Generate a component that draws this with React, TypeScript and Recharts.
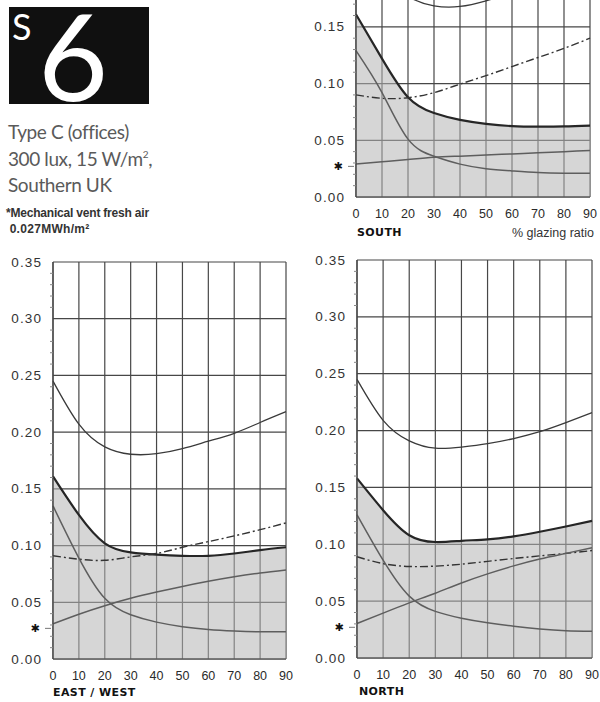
import { ComposedChart, Area, Line, XAxis, YAxis, CartesianGrid } from 'recharts'

// % glazing ratio
const glazing = [0, 10, 20, 30, 40, 50, 60, 70, 80, 90]
const yMajor = [0, 0.05, 0.1, 0.15, 0.2, 0.25, 0.3, 0.35]
const yMinor = [
  0.01, 0.02, 0.03, 0.04, 0.06, 0.07, 0.08, 0.09, 0.11, 0.12, 0.13, 0.14,
  0.16, 0.17, 0.18, 0.19, 0.21, 0.22, 0.23, 0.24, 0.26, 0.27, 0.28, 0.29,
  0.31, 0.32, 0.33, 0.34,
]
// mechanical vent fresh air marker (MWh/m2)
const ventMark = 0.027

// SOUTH
const southTotal = [0.24, 0.2, 0.177, 0.1685, 0.168, 0.173, 0.18, 0.188, 0.196, 0.205]
const southShaded = [0.161, 0.122, 0.088, 0.074, 0.068, 0.0645, 0.0625, 0.062, 0.0622, 0.063]
const southDashed = [0.09, 0.087, 0.0875, 0.092, 0.0995, 0.107, 0.115, 0.123, 0.131, 0.14]
const southFalling = [0.129, 0.092, 0.051, 0.036, 0.029, 0.025, 0.023, 0.0215, 0.021, 0.021]
const southRising = [0.029, 0.031, 0.033, 0.035, 0.036, 0.037, 0.038, 0.039, 0.04, 0.041]

// EAST / WEST
const eastTotal = [0.245, 0.207, 0.187, 0.1805, 0.181, 0.1855, 0.192, 0.199, 0.2085, 0.218]
const eastShaded = [0.161, 0.127, 0.102, 0.094, 0.092, 0.091, 0.091, 0.093, 0.096, 0.0985]
const eastDashed = [0.091, 0.088, 0.087, 0.09, 0.093, 0.0985, 0.1035, 0.1085, 0.114, 0.12]
const eastFalling = [0.135, 0.089, 0.0535, 0.039, 0.0325, 0.0285, 0.026, 0.0247, 0.024, 0.024]
const eastRising = [0.031, 0.0395, 0.047, 0.0535, 0.059, 0.064, 0.0685, 0.0725, 0.0758, 0.0785]

// NORTH
const northTotal = [0.245, 0.209, 0.191, 0.1845, 0.1855, 0.1885, 0.193, 0.199, 0.207, 0.2157]
const northShaded = [0.158, 0.13, 0.108, 0.102, 0.103, 0.1044, 0.107, 0.111, 0.1156, 0.1206]
const northDashed = [0.089, 0.083, 0.0805, 0.0808, 0.0825, 0.085, 0.0875, 0.0898, 0.092, 0.0945]
const northFalling = [0.126, 0.086, 0.0544, 0.041, 0.035, 0.031, 0.028, 0.0256, 0.024, 0.0235]
const northRising = [0.0303, 0.0395, 0.0485, 0.057, 0.066, 0.074, 0.081, 0.087, 0.092, 0.097]

const yTicks = [...yMajor, ...yMinor, ventMark].sort((a, b) => a - b)

const rows = (total: number[], shaded: number[], dashed: number[], falling: number[], rising: number[]) =>
  glazing.map((g, i) => ({
    g,
    total: total[i],
    shaded: shaded[i],
    dashed: dashed[i],
    falling: falling[i],
    rising: rising[i],
  }))

const numFont = 'Arial, "Liberation Sans", sans-serif'
const curve = 'natural'

function YTick(props: any) {
  const { x, y, payload } = props
  const v = payload.value
  if (Math.abs(v - ventMark) < 1e-6) {
    return (
      <g>
        <text x={x - 18} y={y} dy={4} textAnchor="middle" fontSize={11} fill="#111" fontFamily="DejaVu Sans">
          ✱
        </text>
        <line x1={x - 8} x2={x - 2} y1={y} y2={y} stroke="#777" strokeWidth={1} />
      </g>
    )
  }
  if (yMajor.some((m) => Math.abs(m - v) < 1e-6)) {
    return (
      <text x={x - 11} y={y} dy={4.5} textAnchor="end" fontSize={13.5} letterSpacing={1.1} fill="#333" fontFamily={numFont}>
        {v.toFixed(2)}
      </text>
    )
  }
  return <line x1={x - 3} x2={x} y1={y} y2={y} stroke="#888" strokeWidth={1} />
}

interface PanelProps {
  data: ReturnType<typeof rows>
  left: number
  top: number
  marginTop: number
  marginRight: number
  marginBottom: number
  yWidth: number
}

function Panel({ data, left, top, marginTop, marginRight, marginBottom, yWidth }: PanelProps) {
  return (
    <div style={{ position: 'absolute', left, top }}>
      <ComposedChart
        width={300}
        height={462}
        data={data}
        margin={{ top: marginTop, right: marginRight, bottom: marginBottom, left: 0 }}
      >
        <Area
          type={curve}
          dataKey="shaded"
          stroke="#262626"
          strokeWidth={2.2}
          fill="#b5b5b5"
          fillOpacity={0.55}
          baseValue={0}
          dot={false}
          activeDot={false}
          isAnimationActive={false}
        />
        <CartesianGrid horizontalValues={yMajor} verticalValues={glazing} stroke="#474747" strokeWidth={1.2} />
        <XAxis
          type="number"
          dataKey="g"
          domain={[0, 90]}
          ticks={glazing}
          interval={0}
          tickLine={false}
          axisLine={{ stroke: '#444', strokeWidth: 1.2 }}
          tickMargin={6}
          height={22}
          tick={{ fontSize: 12.5, fill: '#2a2a2a', fontFamily: numFont }}
        />
        <YAxis
          type="number"
          domain={[0, 0.35]}
          ticks={yTicks}
          interval={0}
          allowDataOverflow
          width={yWidth}
          tickSize={0}
          tickMargin={0}
          tickLine={false}
          axisLine={{ stroke: '#444', strokeWidth: 1.2 }}
          tick={<YTick />}
        />
        <Line type={curve} dataKey="total" stroke="#3a3a3a" strokeWidth={1.3} dot={false} isAnimationActive={false} />
        <Line
          type={curve}
          dataKey="dashed"
          stroke="#333"
          strokeWidth={1.4}
          strokeDasharray="8 3 2 3"
          dot={false}
          isAnimationActive={false}
        />
        <Line type={curve} dataKey="falling" stroke="#5e5e5e" strokeWidth={1.5} dot={false} isAnimationActive={false} />
        <Line type={curve} dataKey="rising" stroke="#5e5e5e" strokeWidth={1.5} dot={false} isAnimationActive={false} />
      </ComposedChart>
    </div>
  )
}

const heading = {
  position: 'absolute' as const,
  fontFamily: '"DejaVu Sans", sans-serif',
  fontWeight: 700,
  fontSize: 11,
  lineHeight: '12px',
  color: '#111',
  letterSpacing: 0.4,
}
const note = { fontFamily: 'Lato, sans-serif', fontSize: 19, color: '#5a5a5a', lineHeight: '26.5px', letterSpacing: -0.4 }

export default function App() {
  return (
    <div style={{ position: 'absolute', left: 0, top: 0, width: 600, height: 702, overflow: 'hidden', background: '#fff' }}>
      <div style={{ position: 'absolute', left: 9, top: 7, width: 140, height: 97, background: '#101010', overflow: 'hidden' }}>
        <div style={{ position: 'absolute', left: 3, top: -3, color: '#fff', fontFamily: 'Lato, sans-serif', fontWeight: 400, fontSize: 36, lineHeight: '44px' }}>S</div>
        <div style={{ position: 'absolute', left: 29, top: -22, color: '#fff', fontFamily: 'Lato, sans-serif', fontWeight: 400, fontSize: 121, lineHeight: '140px' }}>6</div>
      </div>
      <div style={{ position: 'absolute', left: 8, top: 119, ...note }}>
        <div>Type C (offices)</div>
        <div>
          300 lux, 15 W/m<span style={{ fontSize: 10, position: 'relative', top: -8, lineHeight: 0 }}>2</span>,
        </div>
        <div>Southern UK</div>
      </div>
      <div style={{ position: 'absolute', left: 6, top: 205, fontFamily: 'Arial, sans-serif', fontSize: 12, fontWeight: 700, color: '#333', lineHeight: '16px', letterSpacing: -0.2 }}>
        <div>*Mechanical vent fresh air</div>
        <div style={{ letterSpacing: 0.3 }}>&nbsp;0.027MWh/m²</div>
      </div>

      <Panel data={rows(southTotal, southShaded, southDashed, southFalling, southRising)} left={300} top={-220} marginTop={20} marginRight={10} marginBottom={23} yWidth={56} />
      <Panel data={rows(eastTotal, eastShaded, eastDashed, eastFalling, eastRising)} left={0} top={240} marginTop={22} marginRight={14} marginBottom={21} yWidth={53} />
      <Panel data={rows(northTotal, northShaded, northDashed, northFalling, northRising)} left={300} top={240} marginTop={20} marginRight={8} marginBottom={22} yWidth={57} />

      <div style={{ ...heading, left: 357, top: 227 }}>SOUTH</div>
      <div style={{ position: 'absolute', left: 512, top: 226, fontFamily: 'Arial, sans-serif', fontSize: 12.5, color: '#333', whiteSpace: 'nowrap' }}>% glazing ratio</div>
      <div style={{ ...heading, left: 53, top: 687 }}>EAST / WEST</div>
      <div style={{ ...heading, left: 359, top: 686 }}>NORTH</div>
    </div>
  )
}
